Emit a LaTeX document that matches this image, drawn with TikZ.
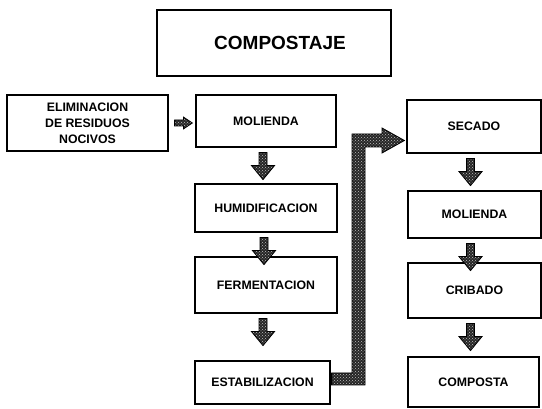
\documentclass[tikz,border=0pt]{standalone}
\usepackage{fontspec}
\setmainfont{Liberation Sans}
\usetikzlibrary{calc,patterns}
\tikzset{
  box/.style={draw=black, line width=1.2pt, fill=white, inner sep=0pt, align=center,
    font=\bfseries\fontsize{12.3}{16}\selectfont},
  titlebox/.style={box, font=\bfseries\fontsize{19}{22}\selectfont},
  blockarrow/.style={draw=black, line width=0.8pt, line join=miter,
    preaction={fill=black!85}, pattern=crosshatch dots, pattern color=white!75!black},
}
% #1 from node, #2 to node (only used for naming), #3 x centre
\newcommand\dnblock[3]{%
  \path let \p1=(#1.south), \p2=(#2.north) in [blockarrow]
    ({(#3-4)*1pt},{\y1-5pt}) -- ({(#3+4)*1pt},{\y1-5pt}) -- ({(#3+4)*1pt},{\y1-18pt})
    -- ({(#3+11.5)*1pt},{\y1-18pt}) -- ({#3*1pt},{\y1-32pt}) -- ({(#3-11.5)*1pt},{\y1-18pt})
    -- ({(#3-4)*1pt},{\y1-18pt}) -- cycle;}
\begin{document}
\begin{tikzpicture}[x=1pt,y=-1pt]
\useasboundingbox[fill=white] (0,0) rectangle (542,409);
% boxes
\node[titlebox, minimum width=234pt, minimum height=66pt] (title) at (274,43) {\hspace*{12pt}COMPOSTAJE};
\node[box, minimum width=161pt, minimum height=56pt] (elim) at (87.5,123) {ELIMINACION\\DE RESIDUOS\\NOCIVOS};
\node[box, minimum width=140pt, minimum height=52pt] (mol1) at (266,121) {MOLIENDA};
\node[box, minimum width=142pt, minimum height=48pt] (hum) at (266,208) {HUMIDIFICACION};
\node[box, minimum width=142pt, minimum height=56pt] (ferm) at (266,285) {FERMENTACION};
\node[box, minimum width=135pt, minimum height=43pt] (esta) at (262.5,382.5) {ESTABILIZACION};
\node[box, minimum width=134pt, minimum height=53pt] (sec) at (474,126.5) {SECADO};
\node[box, minimum width=133pt, minimum height=47pt] (mol2) at (474.5,214.5) {MOLIENDA};
\node[box, minimum width=133pt, minimum height=55pt] (crib) at (474.5,290.5) {CRIBADO};
\node[box, minimum width=131pt, minimum height=50pt] (comp) at (473.5,382) {COMPOSTA};
% small right arrow
\path let \p1=(elim.east), \p2=(mol1.west) in [blockarrow, line width=0.8pt]
  ({\x1+6pt},{-120pt}) -- ({\x2-12pt},{-120pt}) -- ({\x2-12pt},{-117pt})
  -- ({\x2-3pt},{-123pt}) -- ({\x2-12pt},{-129pt}) -- ({\x2-12pt},{-126pt})
  -- ({\x1+6pt},{-126pt}) -- cycle;
% down arrows
\dnblock{mol1}{hum}{263}
\dnblock{hum}{ferm}{264}
\dnblock{ferm}{esta}{263}
\dnblock{sec}{mol2}{470.5}
\dnblock{mol2}{crib}{470.5}
\dnblock{crib}{comp}{470.5}
% big connector
\path let \p1=(esta.east), \p2=(sec.west) in [blockarrow]
  ({\x1+1pt},{-373pt}) -- (352,373) -- (352,134) -- (382,134) -- (382,128)
  -- ({\x2-2pt},{-140.5pt}) -- (382,153) -- (382,147) -- (365,147) -- (365,385)
  -- ({\x1+1pt},{-385pt}) -- cycle;
\end{tikzpicture}
\end{document}
